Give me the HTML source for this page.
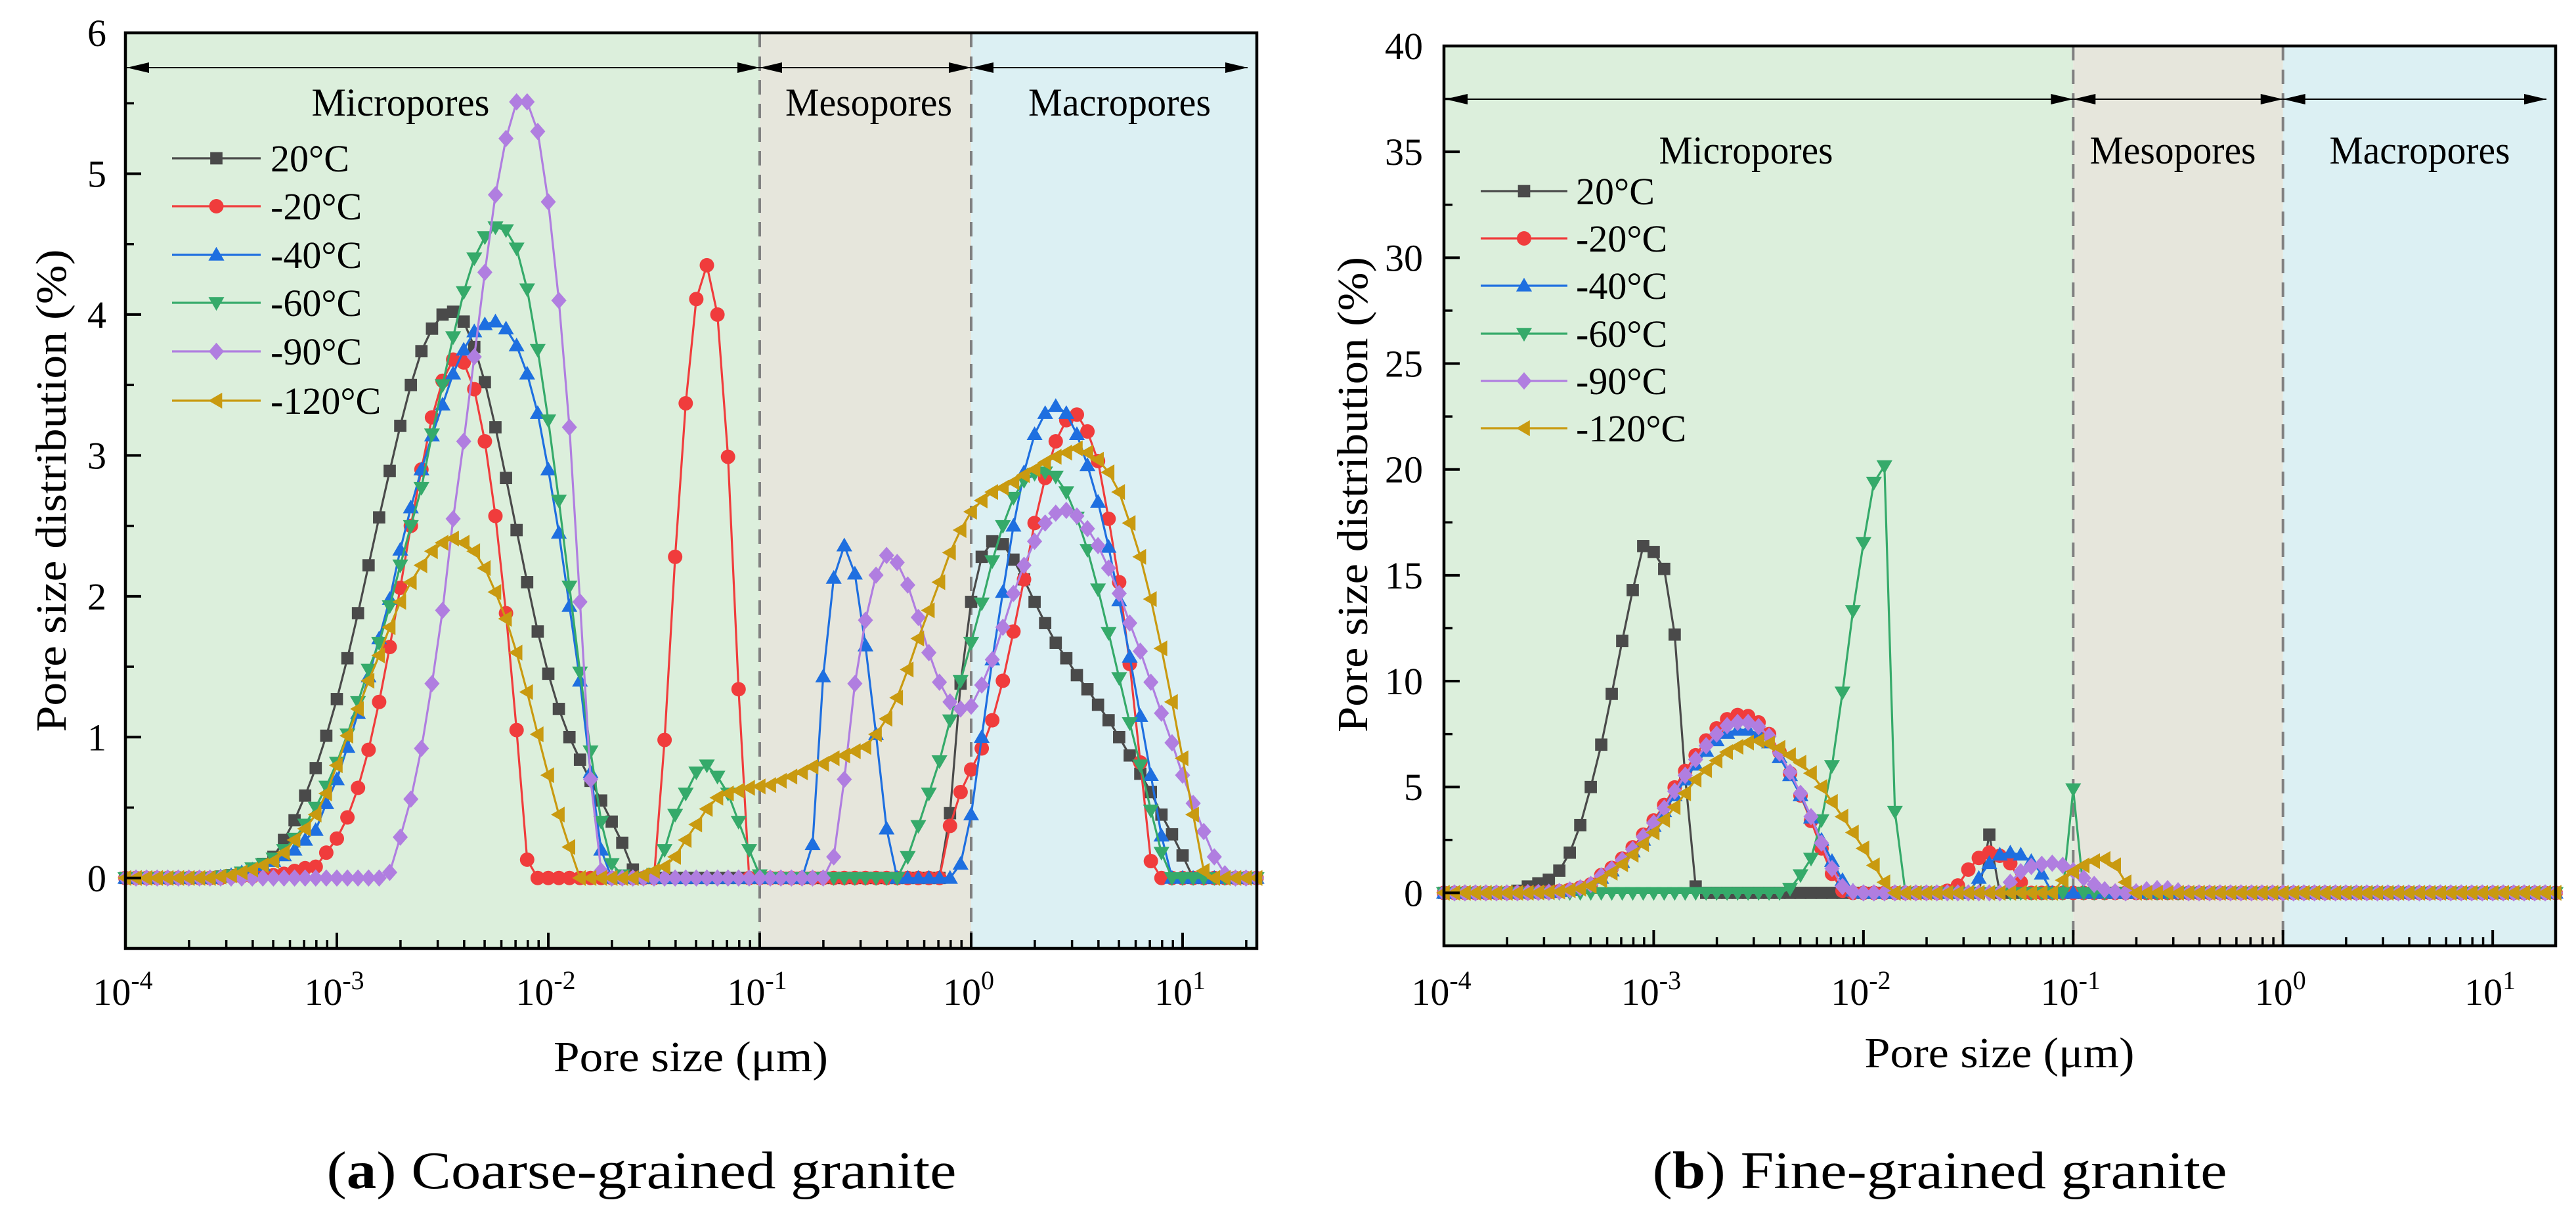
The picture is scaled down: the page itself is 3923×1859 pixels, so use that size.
<!DOCTYPE html>
<html><head><meta charset="utf-8"><style>
html,body{margin:0;padding:0;background:#fff;}
svg{display:block;}
svg text{font-family:"Liberation Serif","Times New Roman",serif;}
</style></head><body>
<svg id="fig" width="3923" height="1859" viewBox="0 0 3923 1859" xmlns="http://www.w3.org/2000/svg" font-family="Liberation Serif, serif">
<rect x="0" y="0" width="3923" height="1859" fill="#fff"/>
<g id="plotA"></g>
<g id="plotB"></g>
<text x="977" y="1809" font-size="80" text-anchor="middle" textLength="959" lengthAdjust="spacingAndGlyphs">(<tspan font-weight="bold">a</tspan>) Coarse-grained granite</text>
<text x="2954" y="1809" font-size="80" text-anchor="middle" textLength="875" lengthAdjust="spacingAndGlyphs">(<tspan font-weight="bold">b</tspan>) Fine-grained granite</text>
</svg>
<script>
const NS = "http://www.w3.org/2000/svg";
const gridStart = -4;
const gridStep = 0.05;
const seriesLabels = ["20°C", "-20°C", "-40°C", "-60°C", "-90°C", "-120°C"];
const xTickExps = [-4, -3, -2, -1, 0, 1];
const yTicksA = [0, 1, 2, 3, 4, 5, 6];
const yTicksB = [0, 5, 10, 15, 20, 25, 30, 35, 40];
const regionBounds = [0.1, 1];

// Coarse-grained granite
const a20 = [0,0,0,0,0,0,0,0,0,0.01, 0.02,0.03,0.06,0.1,0.15,0.27,0.41,0.585,0.78,1.01, 1.27,1.56,1.88,2.22,2.56,2.89,3.21,3.5,3.74,3.9, 4.0,4.02,3.95,3.77,3.52,3.2,2.84,2.47,2.1,1.75, 1.45,1.2,1.0,0.84,0.69,0.55,0.4,0.25,0.06,0, 0,0,0,0,0,0,0,0,0,0, 0,0,0,0,0,0,0,0,0,0, 0,0,0,0,0,0,0,0,0.46,1.38, 1.96,2.28,2.39,2.37,2.26,2.12,1.96,1.81,1.67,1.56, 1.44,1.34,1.23,1.12,1.0,0.87,0.74,0.61,0.45,0.31, 0.16,0,0,0,0,0,0,0];
const aM20 = [0,0,0,0,0,0,0,0,0,0, 0.01,0.01,0.01,0.02,0.02,0.03,0.05,0.07,0.08,0.18, 0.28,0.43,0.64,0.91,1.25,1.64,2.06,2.5,2.9,3.27, 3.53,3.68,3.66,3.47,3.1,2.57,1.88,1.05,0.13,0, 0,0,0,0,0,0,0,0,0,0, 0,0.98,2.28,3.37,4.11,4.35,4.0,2.99,1.34,0, 0,0,0,0,0,0,0,0,0,0, 0,0,0,0,0,0,0,0,0.37,0.61, 0.77,0.92,1.12,1.4,1.75,2.12,2.52,2.84,3.1,3.25, 3.29,3.17,2.96,2.55,2.1,1.52,0.82,0.12,0,0, 0,0,0,0,0,0,0,0];
const aM40 = [0,0,0,0,0,0,0,0,0,0.01, 0.02,0.04,0.06,0.09,0.12,0.16,0.2,0.27,0.34,0.53, 0.7,0.93,1.17,1.43,1.7,1.98,2.33,2.63,2.9,3.14, 3.36,3.58,3.75,3.88,3.93,3.95,3.9,3.78,3.58,3.3, 2.9,2.45,1.93,1.4,0.75,0.2,0,0,0,0, 0,0,0,0,0,0,0,0,0,0, 0,0,0,0,0,0.24,1.43,2.13,2.36,2.16, 1.65,1.02,0.35,0,0,0,0,0,0,0.1, 0.45,1.0,1.55,2.03,2.5,2.88,3.15,3.3,3.35,3.3, 3.15,2.93,2.67,2.35,1.97,1.57,1.15,0.73,0.3,0, 0,0,0,0,0,0,0,0];
const aM60 = [0,0,0,0,0,0,0,0,0,0.01, 0.02,0.04,0.07,0.1,0.14,0.2,0.28,0.38,0.5,0.65, 0.82,1.02,1.25,1.48,1.67,1.93,2.22,2.5,2.77,3.15, 3.5,3.84,4.16,4.4,4.55,4.62,4.6,4.47,4.18,3.75, 3.25,2.68,2.07,1.46,0.9,0.4,0.1,0.02,0,0, 0.03,0.2,0.45,0.6,0.75,0.8,0.72,0.6,0.4,0.2, 0.02,0,0,0,0,0,0,0,0,0, 0,0,0,0,0.15,0.37,0.6,0.83,1.12,1.4, 1.67,1.95,2.25,2.5,2.7,2.82,2.87,2.88,2.85,2.74, 2.56,2.33,2.05,1.74,1.42,1.1,0.8,0.48,0.18,0, 0,0,0,0,0,0,0,0];
const aM90 = [0,0,0,0,0,0,0,0,0,0, 0,0,0,0,0,0,0,0,0,0, 0,0,0,0,0,0.04,0.29,0.56,0.92,1.38, 1.9,2.55,3.1,3.7,4.3,4.85,5.25,5.51,5.51,5.3, 4.8,4.1,3.2,1.96,0.7,0.05,0,0,0,0, 0,0,0,0,0,0,0,0,0,0, 0,0,0,0,0,0,0,0.15,0.7,1.38, 1.83,2.15,2.29,2.24,2.08,1.85,1.6,1.39,1.25,1.2, 1.22,1.37,1.55,1.78,2.02,2.22,2.39,2.52,2.59,2.61, 2.57,2.48,2.36,2.2,2.02,1.81,1.61,1.39,1.17,0.96, 0.73,0.53,0.33,0.15,0.03,0,0,0];
const aM120 = [0,0,0,0,0,0,0,0,0,0.01, 0.02,0.04,0.06,0.09,0.12,0.18,0.27,0.35,0.45,0.6, 0.8,1.01,1.2,1.4,1.58,1.78,1.96,2.1,2.22,2.32, 2.38,2.41,2.38,2.32,2.2,2.03,1.84,1.6,1.32,1.02, 0.73,0.45,0.22,0,0,0,0,0,0,0.02, 0.05,0.08,0.15,0.27,0.38,0.49,0.57,0.6,0.62,0.64, 0.65,0.66,0.69,0.72,0.75,0.79,0.81,0.85,0.87,0.9, 0.93,1.02,1.13,1.28,1.48,1.7,1.9,2.1,2.31,2.47, 2.6,2.68,2.74,2.77,2.81,2.86,2.9,2.95,2.99,3.02, 3.05,3.02,2.97,2.88,2.74,2.52,2.28,1.98,1.63,1.25, 0.85,0.45,0.05,0,0,0,0,0];

// Fine-grained granite
const b20 = [0,0,0,0,0,0,0,0.1,0.3,0.45, 0.62,1.05,1.9,3.2,5.0,7.0,9.4,11.9,14.3,16.38, 16.1,15.3,12.2,5.5,0.3,0,0,0,0,0, 0,0,0,0,0,0,0,0,0,0, 0,0,0,0,0,0,0,0,0,0, 0,0,2.75,0,0,0,0,0,0,0, 0,0,0,0,0,0,0,0,0,0, 0,0,0,0,0,0,0,0,0,0, 0,0,0,0,0,0,0,0,0,0, 0,0,0,0,0,0,0,0,0,0, 0,0,0,0,0,0,0,0];
const bM20 = [0,0,0,0,0,0,0,0,0.01,0.02, 0.03,0.08,0.15,0.25,0.4,0.84,1.18,1.62,2.15,2.75, 3.42,4.15,4.98,5.76,6.5,7.2,7.77,8.2,8.4,8.35, 8.05,7.5,6.65,5.65,4.6,3.4,2.1,0.9,0.1,0, 0,0,0,0,0,0,0,0,0.1,0.35, 1.1,1.65,1.9,1.75,1.4,0.5,0,0,0,0, 0,0,0,0,0,0,0,0,0,0, 0,0,0,0,0,0,0,0,0,0, 0,0,0,0,0,0,0,0,0,0, 0,0,0,0,0,0,0,0,0,0, 0,0,0,0,0,0,0,0];
const bM40 = [0,0,0,0,0,0,0,0,0.01,0.02, 0.03,0.07,0.13,0.22,0.38,0.7,1.05,1.45,1.95,2.5, 3.15,3.85,4.6,5.35,6.05,6.7,7.2,7.55,7.7,7.7, 7.5,7.1,6.4,5.55,4.6,3.55,2.5,1.5,0.6,0.1, 0,0,0,0,0,0,0,0,0,0, 0,0.7,1.4,1.8,1.9,1.8,1.5,0.9,0,0, 0,0,0,0,0,0,0,0,0,0, 0,0,0,0,0,0,0,0,0,0, 0,0,0,0,0,0,0,0,0,0, 0,0,0,0,0,0,0,0,0,0, 0,0,0,0,0,0,0,0];
const bM60 = [0,0,0,0,0,0,0,0,0,0, 0,0,0,0,0,0,0,0,0,0, 0,0,0,0,0,0,0,0,0,0, 0,0,0,0.2,0.84,1.62,3.44,6.0,9.47,13.32, 16.53,19.38,20.16,3.84,0,0,0,0,0,0, 0,0,0,0,0,0,0,0,0,0, 4.9,0,0,0,0,0,0,0,0,0, 0,0,0,0,0,0,0,0,0,0, 0,0,0,0,0,0,0,0,0,0, 0,0,0,0,0,0,0,0,0,0, 0,0,0,0,0,0,0,0];
const bM90 = [0,0,0,0,0,0,0,0,0.01,0.02, 0.03,0.07,0.14,0.24,0.4,0.8,1.12,1.55,2.05,2.65, 3.3,4.0,4.8,5.55,6.3,6.95,7.5,7.9,8.05,8.05, 7.85,7.4,6.6,5.7,4.7,3.6,2.35,1.15,0.3,0.05, 0,0,0,0,0,0,0,0,0,0, 0,0,0,0,0.5,1.0,1.25,1.35,1.4,1.3, 1.05,0.7,0.4,0.15,0.05,0,0.05,0.15,0.2,0.2, 0.1,0,0,0,0,0,0,0,0,0, 0,0,0,0,0,0,0,0,0,0, 0,0,0,0,0,0,0,0,0,0, 0,0,0,0,0,0,0,0];
const bM120 = [0,0,0,0,0,0,0,0,0.01,0.02, 0.03,0.06,0.12,0.2,0.33,0.6,0.95,1.35,1.8,2.3, 2.85,3.45,4.05,4.7,5.35,5.8,6.25,6.65,6.9,7.1, 7.18,7.05,6.85,6.5,6.15,5.65,5.0,4.3,3.6,2.85, 2.1,1.3,0.5,0,0,0,0,0,0,0, 0,0,0,0,0,0,0,0,0,0.6, 1.0,1.3,1.5,1.6,1.3,0.5,0,0,0,0, 0,0,0,0,0,0,0,0,0,0, 0,0,0,0,0,0,0,0,0,0, 0,0,0,0,0,0,0,0,0,0, 0,0,0,0,0,0,0,0];

const seriesColors = ["#4a4a4a", "#f03c3c", "#1e6fe0", "#35aa6a", "#b07ee0", "#c99a10"];
const seriesMarkers = ["square", "circle", "up", "down", "diamond", "left"];
const seriesKeys = ["20c", "minus20c", "minus40c", "minus60c", "minus90c", "minus120c"];

function mk(tag, attrs, parent) {
  const el = document.createElementNS(NS, tag);
  for (const k in attrs) el.setAttribute(k, attrs[k]);
  parent.appendChild(el);
  return el;
}

function marker(parent, kind, cx, cy, s, color) {
  let el;
  if (kind === "square") el = mk("rect", {x: cx - s*0.85, y: cy - s*0.85, width: s*1.7, height: s*1.7, fill: color}, parent);
  else if (kind === "circle") el = mk("circle", {cx: cx, cy: cy, r: s, fill: color}, parent);
  else if (kind === "up") el = mk("polygon", {points: `${cx},${cy - s*1.1} ${cx + s*1.1},${cy + s*0.8} ${cx - s*1.1},${cy + s*0.8}`, fill: color}, parent);
  else if (kind === "down") el = mk("polygon", {points: `${cx},${cy + s*1.1} ${cx + s*1.1},${cy - s*0.8} ${cx - s*1.1},${cy - s*0.8}`, fill: color}, parent);
  else if (kind === "diamond") el = mk("polygon", {points: `${cx},${cy - s*1.2} ${cx + s*1.05},${cy} ${cx},${cy + s*1.2} ${cx - s*1.05},${cy}`, fill: color}, parent);
  else el = mk("polygon", {points: `${cx - s*1.1},${cy} ${cx + s*0.8},${cy - s*1.1} ${cx + s*0.8},${cy + s*1.1}`, fill: color}, parent);
  return el;
}

function drawChart(gid, cfg, seriesData, yTicks, minorStep, legend, regions) {
  const g = document.getElementById(gid);
  const X = l => cfg.x0 + (l - cfg.lmin) / (cfg.lmax - cfg.lmin) * (cfg.x1 - cfg.x0);
  const Y = v => cfg.y1 - (v - cfg.vmin) / (cfg.vmax - cfg.vmin) * (cfg.y1 - cfg.y0);
  const l01 = Math.log10(regionBounds[0]), l1 = Math.log10(regionBounds[1]);
  const b1 = mk("rect", {x: cfg.x0, y: cfg.y0, width: X(l01) - cfg.x0, height: cfg.y1 - cfg.y0, fill: "#dcefdc"}, g);
  
  
  const b2 = mk("rect", {x: X(l01), y: cfg.y0, width: X(l1) - X(l01), height: cfg.y1 - cfg.y0, fill: "#e6e6dc"}, g);
  
  
  const b3 = mk("rect", {x: X(l1), y: cfg.y0, width: cfg.x1 - X(l1), height: cfg.y1 - cfg.y0, fill: "#dcf0f3"}, g);
  
  
  [l01, l1].forEach(l => {
    const d = mk("line", {x1: X(l), x2: X(l), y1: cfg.y0, y2: cfg.y1, stroke: "#808080", "stroke-width": 4, "stroke-dasharray": "22 14"}, g);
    
    
  });
  const ay = cfg.arrowY;
  const segs = [[cfg.x0 + 2, X(l01)], [X(l01), X(l1)], [X(l1), cfg.x1 - 14]];
  segs.forEach(sg => {
    const ag = mk("g", {}, g);
    
    
    mk("line", {x1: sg[0], x2: sg[1], y1: ay, y2: ay, stroke: "#000", "stroke-width": 2}, ag);
    mk("polygon", {points: `${sg[0]},${ay} ${sg[0] + 34},${ay - 8} ${sg[0] + 34},${ay + 8}`, fill: "#000"}, ag);
    mk("polygon", {points: `${sg[1]},${ay} ${sg[1] - 34},${ay - 8} ${sg[1] - 34},${ay + 8}`, fill: "#000"}, ag);
  });
  const rnames = ["Micropores", "Mesopores", "Macropores"];
  regions.forEach((r, i) => {
    const t = mk("text", {x: r[0], y: cfg.regionY, "font-size": 60, "font-family": "Liberation Serif, serif", "text-anchor": "middle", textLength: r[1], lengthAdjust: "spacingAndGlyphs"}, g);
    t.textContent = rnames[i];
    
    
  });
  seriesData.forEach((vals, si) => {
    const sg = mk("g", {}, g);
    
    
    const pts = [];
    vals.forEach((v, i) => {
      const l = gridStart + i * gridStep;
      if (l <= cfg.lmax + 0.001) pts.push([X(l), Y(v)]);
    });
    const pl = mk("polyline", {points: pts.map(p => p[0].toFixed(1) + "," + p[1].toFixed(1)).join(" "), fill: "none", stroke: seriesColors[si], "stroke-width": 3.2}, sg);
    
    
    pts.forEach(p => {
      const m = marker(sg, seriesMarkers[si], p[0], p[1], 11, seriesColors[si]);
      
      
    });
  });
  const fr = mk("rect", {x: cfg.x0, y: cfg.y0, width: cfg.x1 - cfg.x0, height: cfg.y1 - cfg.y0, fill: "none", stroke: "#000", "stroke-width": 4.5}, g);
  
  
  xTickExps.forEach(e => {
    const tk = mk("line", {x1: X(e), x2: X(e), y1: cfg.y1, y2: cfg.y1 - 24, stroke: "#000", "stroke-width": 4}, g);
    
    
    for (let k = 2; k <= 9; k++) {
      const l = e + Math.log10(k);
      if (l > cfg.lmax) break;
      const mt = mk("line", {x1: X(l), x2: X(l), y1: cfg.y1, y2: cfg.y1 - 13, stroke: "#000", "stroke-width": 3.5}, g);
      
      
    }
    const t = mk("text", {x: X(e) - 4, y: 1530, "font-size": 58, "font-family": "Liberation Serif, serif", "text-anchor": "middle"}, g);
    t.textContent = "10";
    const sup = mk("tspan", {dy: -24, "font-size": 40}, t);
    sup.textContent = String(e);
    
    
  });
  yTicks.forEach(v => {
    const tk = mk("line", {x1: cfg.x0, x2: cfg.x0 + 24, y1: Y(v), y2: Y(v), stroke: "#000", "stroke-width": 4}, g);
    
    
    const t = mk("text", {x: cfg.yLabelX, y: Y(v) + 20, "font-size": 58, "font-family": "Liberation Serif, serif", "text-anchor": "end"}, g);
    t.textContent = String(v);
    
    
    const mv = v + minorStep;
    if (mv < cfg.vmax) {
      const mt = mk("line", {x1: cfg.x0, x2: cfg.x0 + 13, y1: Y(mv), y2: Y(mv), stroke: "#000", "stroke-width": 3.5}, g);
      
      
    }
  });
  const xt = mk("text", {x: cfg.xTitle[0], y: cfg.xTitle[1], "font-size": 66, "font-family": "Liberation Serif, serif", "text-anchor": "middle", textLength: cfg.xTitle[2], lengthAdjust: "spacingAndGlyphs"}, g);
  xt.textContent = "Pore size (μm)";
  
  
  const yt = mk("text", {x: 0, y: 0, "font-size": 66, "font-family": "Liberation Serif, serif", "text-anchor": "middle", textLength: cfg.yTitle[2], lengthAdjust: "spacingAndGlyphs", transform: `translate(${cfg.yTitle[0]},${cfg.yTitle[1]}) rotate(-90)`}, g);
  yt.textContent = "Pore size distribution (%)";
  
  
  const lg = mk("g", {}, g);
  
  
  seriesLabels.forEach((lab, i) => {
    const ly = legend.ys[i];
    const eg = mk("g", {}, lg);
    
    
    mk("line", {x1: legend.x1, x2: legend.x2, y1: ly, y2: ly, stroke: seriesColors[i], "stroke-width": 3.2}, eg);
    marker(eg, seriesMarkers[i], (legend.x1 + legend.x2) / 2, ly, 11, seriesColors[i]);
    const t = mk("text", {x: legend.tx, y: ly + 20, "font-size": 58, "font-family": "Liberation Serif, serif"}, eg);
    t.textContent = lab;
  });
}

drawChart("plotA",
  {x0: 191, x1: 1914, y0: 50, y1: 1444, lmin: -4, lmax: 1.351, vmin: -0.5, vmax: 6, arrowY: 103, regionY: 176, yLabelX: 162,
   xTitle: [1052, 1631, 418], yTitle: [100, 747, 735]},
  [a20, aM20, aM40, aM60, aM90, aM120], yTicksA, 0.5,
  {x1: 262, x2: 397, tx: 412, ys: [241, 314, 388, 461, 535, 610]},
  [[610, 271], [1323, 254], [1705, 278]]);

drawChart("plotB",
  {x0: 2199, x1: 3892, y0: 70, y1: 1440, lmin: -4, lmax: 1.30, vmin: -2.5, vmax: 40, arrowY: 151, regionY: 249, yLabelX: 2167,
   xTitle: [3045, 1625, 411], yTitle: [2082, 753, 724]},
  [b20, bM20, bM40, bM60, bM90, bM120], yTicksB, 2.5,
  {x1: 2255, x2: 2387, tx: 2400, ys: [291, 363, 435, 508, 580, 652]},
  [[2659, 265], [3309, 253], [3685, 275]]);
</script>
</body></html>
